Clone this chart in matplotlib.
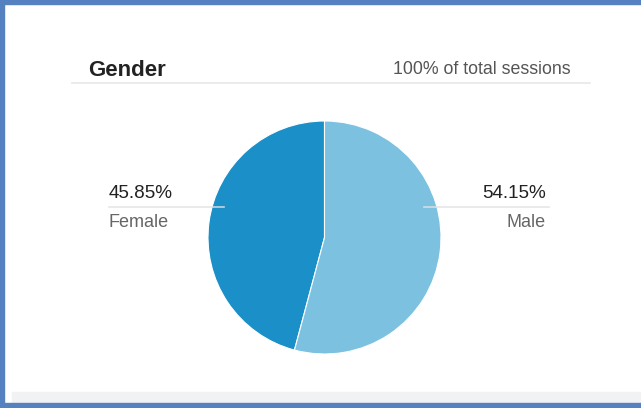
import matplotlib.pyplot as plt
from matplotlib.patches import Rectangle
from matplotlib.lines import Line2D

labels = ["Female", "Male"]
shares = [45.85, 54.15]
colors = ["#1a8fc8", "#7cc2e0"]
title = "Gender"
subtitle = "100% of total sessions"

W, H = 641, 408
fig = plt.figure(figsize=(W / 100, H / 100), dpi=100)
plt.rcParams["font.family"] = ["Liberation Sans", "DejaVu Sans"]


def fx(x):
    return x / W


def fy(y):
    return 1 - y / H


# frame: blue border left/top/bottom, grey footer strip
border = "#5681c1"
fig.patches.append(Rectangle((0, 0), fx(4), 1, transform=fig.transFigure, color=border))
fig.patches.append(Rectangle((0, fy(4)), 1, 4 / H, transform=fig.transFigure, color=border))
fig.patches.append(Rectangle((fx(12), fy(403)), 1, 11 / H, transform=fig.transFigure, color="#f1f2f3"))
fig.patches.append(Rectangle((0, 0), 1, 5 / H, transform=fig.transFigure, color=border))

# header
fig.text(fx(88), fy(76), title, fontsize=16, fontweight="bold", color="#222222")
fig.text(fx(571), fy(74), subtitle, fontsize=12.8, color="#555555", ha="right")
fig.lines.append(Line2D([fx(72), fx(590)], [fy(83), fy(83)], transform=fig.transFigure,
                        color="#e8e8e8", lw=1.2))

# pie
ax = fig.add_axes([fx(208), fy(354), 233 / W, 233 / H])
ax.pie(shares, colors=colors, startangle=90, counterclock=True,
       wedgeprops=dict(edgecolor="white", linewidth=0.8))
ax.set_xlim(-1, 1)
ax.set_ylim(-1, 1)
ax.set_aspect("equal")
ax.axis("off")

# side labels
fig.lines.append(Line2D([fx(109), fx(224)], [fy(207), fy(207)], transform=fig.transFigure,
                        color="#e2e2e2", lw=1.2, alpha=0.85))
fig.lines.append(Line2D([fx(424), fx(549)], [fy(207), fy(207)], transform=fig.transFigure,
                        color="#e2e2e2", lw=1.2, alpha=0.85))
fig.text(fx(109), fy(198), f"{shares[0]:.2f}%", fontsize=13.6, color="#222222")
fig.text(fx(109), fy(227), labels[0], fontsize=13, color="#666666")
fig.text(fx(546), fy(198), f"{shares[1]:.2f}%", fontsize=13.6, color="#222222", ha="right")
fig.text(fx(546), fy(227), labels[1], fontsize=13, color="#666666", ha="right")

fig.savefig("out.png", dpi=100)
